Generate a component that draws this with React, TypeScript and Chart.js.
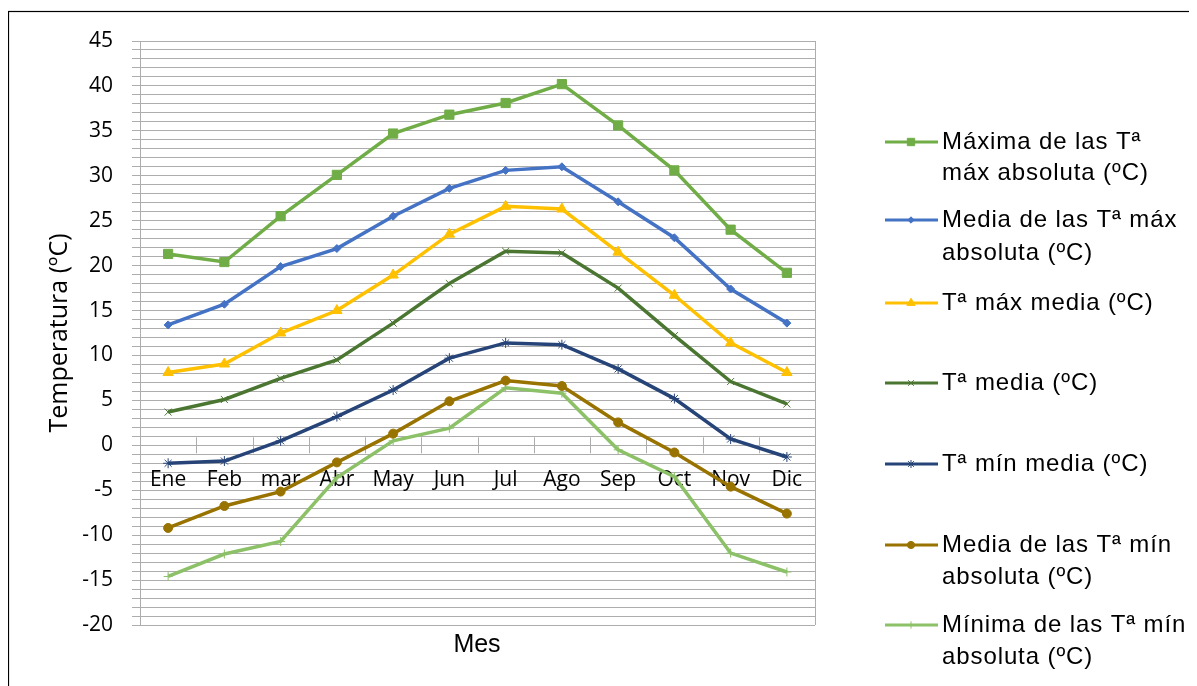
import React, { useEffect, useRef } from "react";
import { Chart, registerables } from "chart.js";
import { drawPoint } from "chart.js/helpers";

Chart.register(...registerables);

const months = ["Ene", "Feb", "mar", "Abr", "May", "Jun", "Jul", "Ago", "Sep", "Oct", "Nov", "Dic"];
const maxAbsMax = [21.3, 20.4, 25.5, 30.1, 34.7, 36.8, 38.1, 40.2, 35.6, 30.6, 24.0, 19.2];
const meanAbsMax = [13.4, 15.7, 19.9, 21.9, 25.5, 28.6, 30.6, 31.0, 27.1, 23.1, 17.4, 13.6];
const meanMax = [8.1, 9.05, 12.5, 15.0, 18.95, 23.5, 26.6, 26.3, 21.5, 16.7, 11.4, 8.1];
const meanTemp = [3.7, 5.1, 7.45, 9.5, 13.6, 18.0, 21.6, 21.4, 17.5, 12.2, 7.1, 4.6];
const meanMin = [-2.0, -1.75, 0.5, 3.2, 6.15, 9.7, 11.4, 11.2, 8.5, 5.2, 0.7, -1.3];
const meanAbsMin = [-9.2, -6.75, -5.15, -1.9, 1.3, 4.9, 7.2, 6.6, 2.55, -0.8, -4.6, -7.6];
const minAbsMin = [-14.6, -12.1, -10.7, -3.6, 0.5, 1.9, 6.4, 5.8, -0.5, -3.5, -12.0, -14.1];

const yMin = -20;
const yMax = 45;

const seriesNames = [
  ["Máxima de las Tª", "máx absoluta (ºC)"],
  ["Media de las Tª máx", "absoluta (ºC)"],
  ["Tª máx media (ºC)"],
  ["Tª media (ºC)"],
  ["Tª mín media (ºC)"],
  ["Media de las Tª mín", "absoluta (ºC)"],
  ["Mínima de las Tª mín", "absoluta (ºC)"],
];

const seriesStyles = [
  { color: "#70AD47", point: "rect", radius: 6.5, bw: 1 },
  { color: "#4472C4", point: "rectRot", radius: 4, bw: 1 },
  { color: "#FFC000", point: "triangle", radius: 6, bw: 1 },
  { color: "#4A7631", point: "crossRot", radius: 5, bw: 1 },
  { color: "#264478", point: "star", radius: 5, bw: 1 },
  { color: "#997300", point: "circle", radius: 4.5, bw: 1 },
  { color: "#8CC168", point: "cross", radius: 4.5, bw: 1 },
];

const legendY = [[134, 165], [212, 245], [295], [375], [456], [537, 569], [617, 649]];

const OFFX = 8;
const OFFY = 8;

export default function App() {
  const ref = useRef<HTMLCanvasElement | null>(null);

  useEffect(() => {
    const canvas = ref.current;
    if (!canvas) return;
    const values = [maxAbsMax, meanAbsMax, meanMax, meanTemp, meanMin, meanAbsMin, minAbsMin];

    const decor = {
      id: "decor",
      beforeDatasetsDraw(chart: any) {
        const { ctx, chartArea } = chart;
        const y0 = chart.scales.y.getPixelForValue(0);
        ctx.save();
        ctx.strokeStyle = "#ADADAD";
        ctx.lineWidth = 1;
        ctx.beginPath();
        const w = (chartArea.right - chartArea.left) / months.length;
        for (let k = 1; k < months.length; k++) {
          const x = Math.round(chartArea.left + k * w) + 0.5;
          ctx.moveTo(x, y0 - 8);
          ctx.lineTo(x, y0 + 8);
        }
        const xr = Math.round(chartArea.right) + 0.5;
        ctx.moveTo(xr, chartArea.top);
        ctx.lineTo(xr, chartArea.bottom);
        ctx.stroke();
        ctx.restore();
      },
      afterDraw(chart: any) {
        const { ctx } = chart;
        ctx.save();
        // outer border
        ctx.strokeStyle = "#000";
        ctx.lineWidth = 1.2;
        ctx.strokeRect(0.5, 3.5, 3000, 3000);

        // y title
        ctx.fillStyle = "#000";
        ctx.font = "25px 'Open Sans'";
        ctx.textAlign = "center";
        ctx.textBaseline = "middle";
        ctx.translate(60 - OFFX, 333 - OFFY);
        ctx.rotate(-Math.PI / 2);
        ctx.fillText("Temperatura (ºC)", 0, 0);
        ctx.setTransform(1, 0, 0, 1, 0, 0);

        // x title
        ctx.font = "25px 'Liberation Sans'";
        ctx.fillText("Mes", 477 - OFFX, 645 - OFFY);

        // legend
        ctx.textAlign = "left";
        (ctx as any).letterSpacing = "0.9px";
        ctx.font = "24px 'Liberation Sans'";
        seriesNames.forEach((lines, i) => {
          const st = seriesStyles[i];
          const ly = legendY[i][0] + 8 - OFFY;
          ctx.strokeStyle = st.color;
          ctx.fillStyle = st.color;
          ctx.lineWidth = 3;
          ctx.beginPath();
          ctx.moveTo(885 - OFFX, ly);
          ctx.lineTo(938 - OFFX, ly);
          ctx.stroke();
          ctx.lineWidth = st.bw;
          drawPoint(ctx, { pointStyle: st.point as any, radius: st.radius * 0.8, borderWidth: st.bw, rotation: 0 } as any, 911 - OFFX, ly);
          ctx.fillStyle = "#000";
          lines.forEach((t, j) => {
            ctx.fillText(t, 942 - OFFX, legendY[i][j] + 8 - OFFY);
          });
        });
        (ctx as any).letterSpacing = "0px";
        ctx.restore();
      },
    };

    const chart = new Chart(canvas, {
      type: "line",
      data: {
        labels: months,
        datasets: values.map((v, i) => ({
          label: seriesNames[i].join(" "),
          data: v,
          borderColor: seriesStyles[i].color,
          backgroundColor: seriesStyles[i].color,
          pointBorderColor: seriesStyles[i].color,
          pointBackgroundColor: seriesStyles[i].color,
          pointStyle: seriesStyles[i].point as any,
          pointRadius: seriesStyles[i].radius,
          pointBorderWidth: seriesStyles[i].bw,
          borderWidth: 3.5,
          tension: 0,
          fill: false,
        })),
      },
      options: {
        responsive: false,
        animation: false,
        devicePixelRatio: 1,
        layout: { padding: { top: 33, right: 382, bottom: 61, left: 0 } },
        plugins: { legend: { display: false }, tooltip: { enabled: false }, title: { display: false } },
        scales: {
          x: {
            type: "category",
            position: { y: 0 } as any,
            offset: true,
            grid: { display: false, drawTicks: false },
            border: { display: true, color: "#ADADAD", width: 1 },
            ticks: {
              color: "#000",
              font: { family: "'Open Sans'", size: 21 },
              padding: 22,
              maxRotation: 0,
              autoSkip: false,
            },
          },
          y: {
            min: yMin,
            max: yMax,
            afterFit: (s: any) => {
              s.width = 140 - OFFX;
            },
            grid: { color: "#ADADAD", lineWidth: 1, tickLength: 8 },
            border: { display: true, color: "#ADADAD", width: 1 },
            ticks: {
              stepSize: 1,
              autoSkip: false,
              color: "#000",
              padding: 19,
              font: { family: "'Open Sans'", size: 21 },
              callback: (v: any) => (Number(v) % 5 === 0 ? String(v) : ""),
            },
          },
        },
      },
      plugins: [decor],
    });
    return () => chart.destroy();
  }, []);

  return (
    <div style={{ width: 1189, height: 678 }}>
      <canvas ref={ref} width={1189} height={678} style={{ display: "block" }} />
    </div>
  );
}
